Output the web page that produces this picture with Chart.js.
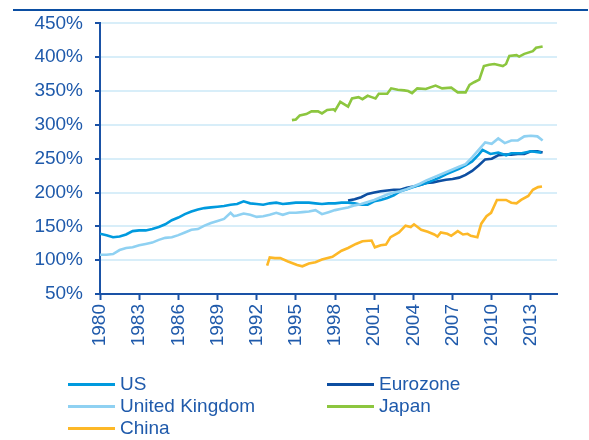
<!DOCTYPE html>
<html>
<head>
<meta charset="utf-8">
<script src="https://cdn.jsdelivr.net/npm/chart.js@4"></script>
<style>
  body { margin: 0; background: #fff; font-family: "Liberation Sans", Arial, sans-serif; }
  #wrap { position: relative; width: 589px; height: 440px; }
  #topline { position: absolute; left: 13px; top: 9px; width: 575px; height: 2px; background: #0b4ea2; }
  #chart-box { position: absolute; left: 0; top: 0; width: 589px; height: 360px; }
  #legend { position: absolute; left: 0; top: 0; width: 589px; height: 440px; pointer-events: none; }
  .item { position: absolute; height: 22px; line-height: 22px; font-size: 19px; color: #1f5aab; white-space: nowrap; }
  .item span.swatch { position: absolute; left: 0; top: 10px; width: 47px; height: 3px; }
  .item span.label { position: absolute; left: 52px; top: 0; }
</style>
</head>
<body>
<div id="wrap">
  <div id="topline"></div>
  <div id="chart-box"><canvas id="debt-chart" width="589" height="360"></canvas></div>
  <div id="legend"></div>
</div>
<script>
// Axis ticks
const yTicks = [50, 100, 150, 200, 250, 300, 350, 400, 450];
const xTicks = [1980, 1983, 1986, 1989, 1992, 1995, 1998, 2001, 2004, 2007, 2010, 2013];

// US
const usX = [1980.0, 1980.5, 1981.0, 1981.5, 1982.0, 1982.5, 1983.0, 1983.5, 1984.0, 1984.5,
  1985.0, 1985.5, 1986.0, 1986.5, 1987.0, 1987.5, 1988.0, 1988.5, 1989.0, 1989.5,
  1990.0, 1990.5, 1991.0, 1991.5, 1992.0, 1992.5, 1993.0, 1993.5, 1994.0, 1994.5,
  1995.0, 1995.5, 1996.0, 1996.5, 1997.0, 1997.5, 1998.0, 1998.5, 1999.0, 1999.5,
  2000.0, 2000.5, 2001.0, 2001.5, 2002.0, 2002.5, 2003.0, 2003.5, 2004.0, 2004.5,
  2005.0, 2005.5, 2006.0, 2006.5, 2007.0, 2007.5, 2008.0, 2008.5, 2009.0, 2009.3,
  2009.9, 2010.5, 2011.1, 2011.5, 2012.3, 2013.0, 2013.8];
const usY = [139, 137, 134, 135, 138, 143, 144, 144, 146, 149,
  153, 159, 163, 168, 172, 175, 177, 178, 179, 180,
  182, 183, 187, 184, 183, 182, 184, 185, 183, 184,
  185, 185, 185, 184, 183, 184, 184, 185, 185, 184,
  182, 182, 187, 189, 192, 196, 202, 205, 208, 211,
  214, 218, 222, 227, 231, 235, 240, 246, 256, 263,
  257, 259, 255, 258, 258, 261, 259];

// Eurozone
const ezX = [1999.0, 1999.5, 2000.0, 2000.5, 2001.0, 2001.5, 2002.0, 2002.5, 2003.0, 2003.5,
  2004.0, 2004.5, 2005.0, 2005.5, 2006.0, 2006.5, 2007.0, 2007.5, 2008.0, 2008.5,
  2009.0, 2009.5, 2010.0, 2010.5, 2011.0, 2011.5, 2012.0, 2012.5, 2013.0, 2013.5, 2013.9];
const ezY = [188, 190, 193, 198, 200, 202, 203, 204, 204, 207,
  209, 211, 214, 215, 217, 219, 220, 222, 226, 232,
  240, 249, 250, 255, 256, 256, 257, 257, 261, 261, 259];

// United Kingdom
const ukX = [1980.0, 1980.5, 1981.0, 1981.5, 1982.0, 1982.5, 1983.0, 1983.5, 1984.0, 1984.5,
  1985.0, 1985.5, 1986.0, 1986.5, 1987.0, 1987.5, 1988.0, 1988.5, 1989.0, 1989.5,
  1990.0, 1990.25, 1990.5, 1991.0, 1991.5, 1992.0, 1992.5, 1993.0, 1993.5, 1994.0,
  1994.5, 1995.0, 1995.5, 1996.0, 1996.5, 1997.0, 1997.5, 1998.0, 1998.5, 1999.0,
  1999.5, 2000.0, 2000.5, 2001.0, 2001.5, 2002.0, 2002.5, 2003.0, 2003.5, 2004.0,
  2004.5, 2005.0, 2005.5, 2006.0, 2006.5, 2007.0, 2007.5, 2008.0, 2008.5, 2009.0,
  2009.5, 2010.0, 2010.5, 2011.0, 2011.5, 2012.0, 2012.5, 2013.0, 2013.5, 2013.9];
const ukY = [108, 108, 109, 115, 118, 119, 122, 124, 126, 130,
  133, 134, 137, 141, 145, 146, 151, 155, 158, 161,
  170, 165, 166, 169, 167, 164, 165, 167, 170, 167,
  170, 170, 171, 172, 174, 168, 171, 174, 176, 178,
  181, 183, 186, 189, 193, 197, 200, 202, 205, 209,
  213, 218, 222, 226, 230, 234, 238, 242, 252, 263,
  274, 272, 280, 273, 277, 277, 283, 284, 283, 277];

// Japan
const jpX = [1994.7, 1995.0, 1995.3, 1995.8, 1996.2, 1996.7, 1997.0, 1997.4, 1997.9, 1998.0,
  1998.4, 1998.75, 1999.0, 1999.3, 1999.8, 2000.1, 2000.5, 2000.8, 2001.1, 2001.35,
  2002.0, 2002.3, 2002.8, 2003.3, 2003.6, 2003.9, 2004.3, 2004.95, 2005.7, 2006.2,
  2006.9, 2007.4, 2008.0, 2008.3, 2008.65, 2009.05, 2009.4, 2009.8, 2010.2, 2010.85,
  2011.1, 2011.35, 2011.9, 2012.1, 2012.5, 2013.15, 2013.4, 2013.9];
const jpY = [307, 308, 314, 316, 320, 320, 317, 322, 323, 321,
  334, 330, 327, 339, 341, 338, 343, 341, 339, 346,
  346, 354, 352, 351, 350, 347, 354, 353, 358, 354,
  355, 348, 348, 359, 363, 367, 387, 389, 390, 387,
  390, 402, 403, 401, 405, 409, 414, 416];

// China
const cnX = [1992.8, 1993.0, 1993.4, 1993.8, 1994.4, 1995.1, 1995.5, 1996.0, 1996.5, 1997.0,
  1997.8, 1998.5, 1999.0, 1999.6, 2000.1, 2000.8, 2001.05, 2001.5, 2001.9, 2002.25,
  2002.9, 2003.4, 2003.8, 2004.05, 2004.6, 2005.1, 2005.6, 2005.85, 2006.1, 2006.6,
  2006.9, 2007.4, 2007.8, 2008.15, 2008.4, 2008.9, 2009.2, 2009.6, 2009.95, 2010.4,
  2010.7, 2011.1, 2011.5, 2011.9, 2012.25, 2012.8, 2013.15, 2013.55, 2013.85];
const cnY = [92, 104, 103, 103, 98, 93, 91, 95, 97, 101,
  105, 114, 118, 124, 128, 129, 119, 122, 123, 134,
  141, 151, 149, 153, 145, 142, 138, 135, 141, 139,
  136, 143, 138, 139, 136, 134, 154, 165, 170, 189,
  189, 189, 185, 184, 189, 195, 204, 208, 209];

const seriesNames = ['US', 'Eurozone', 'United Kingdom', 'Japan', 'China'];
const seriesColors = ['#009ade', '#0d4ea1', '#8fd1f2', '#8cc63f', '#fdb827'];
const seriesX = [usX, ezX, ukX, jpX, cnX];
const seriesY = [usY, ezY, ukY, jpY, cnY];

const axisBlue = '#1a52a6';
const textBlue = '#1f5aab';
const gridBlue = '#d8eef9';
const fontSpec = { family: '"Liberation Sans", Arial, sans-serif', size: 19 };

function toPoints(xs, ys) {
  return xs.map((x, i) => ({ x: x, y: ys[i] }));
}

// draw order: China and Japan under, then UK, US, Eurozone on top
const drawOrder = [4, 3, 2, 0, 1];
const datasets = drawOrder.map(i => ({
  label: seriesNames[i],
  data: toPoints(seriesX[i], seriesY[i]),
  borderColor: seriesColors[i],
  backgroundColor: seriesColors[i],
  borderWidth: 2.6,
  pointRadius: 0,
  tension: 0,
  fill: false
}));

function buildLegend() {
  const legend = document.getElementById('legend');
  // column-major layout: US, UK, China on the left; Eurozone, Japan on the right
  const slots = {
    'US': [68, 373], 'United Kingdom': [68, 395], 'China': [68, 417],
    'Eurozone': [327, 373], 'Japan': [327, 395]
  };
  seriesNames.forEach((name, i) => {
    const item = document.createElement('div');
    item.className = 'item';
    item.style.left = slots[name][0] + 'px';
    item.style.top = slots[name][1] + 'px';
    const sw = document.createElement('span');
    sw.className = 'swatch';
    sw.style.background = seriesColors[i];
    const lb = document.createElement('span');
    lb.className = 'label';
    lb.textContent = name;
    item.appendChild(sw);
    item.appendChild(lb);
    legend.appendChild(item);
  });
}

function initChart() {
  const ctx = document.getElementById('debt-chart').getContext('2d');
  new Chart(ctx, {
    type: 'line',
    data: { datasets: datasets },
    options: {
      responsive: false,
      animation: false,
      layout: { padding: { left: 0, right: 32, top: 22, bottom: 0 } },
      plugins: { legend: { display: false }, tooltip: { enabled: false } },
      scales: {
        x: {
          type: 'linear',
          min: 1980,
          max: 2015,
          afterBuildTicks: scale => { scale.ticks = xTicks.map(v => ({ value: v })); },
          afterFit: scale => { scale.height = 66; },
          border: { color: axisBlue, width: 2 },
          grid: { drawOnChartArea: false, drawTicks: true, tickLength: 6, tickColor: axisBlue, tickWidth: 2 },
          ticks: {
            autoSkip: false,
            minRotation: 90,
            maxRotation: 90,
            padding: 4,
            color: textBlue,
            font: fontSpec,
            callback: v => String(v)
          }
        },
        y: {
          min: 50,
          max: 450,
          afterBuildTicks: scale => { scale.ticks = yTicks.map(v => ({ value: v })); },
          afterFit: scale => { scale.width = 100; },
          border: { color: axisBlue, width: 2 },
          grid: { color: gridBlue, lineWidth: 2, drawTicks: true, tickLength: 5, tickColor: axisBlue, tickWidth: 2 },
          ticks: {
            padding: 12,
            color: textBlue,
            font: fontSpec,
            callback: v => v + '%'
          }
        }
      }
    }
  });
}

buildLegend();
initChart();
</script>
</body>
</html>
